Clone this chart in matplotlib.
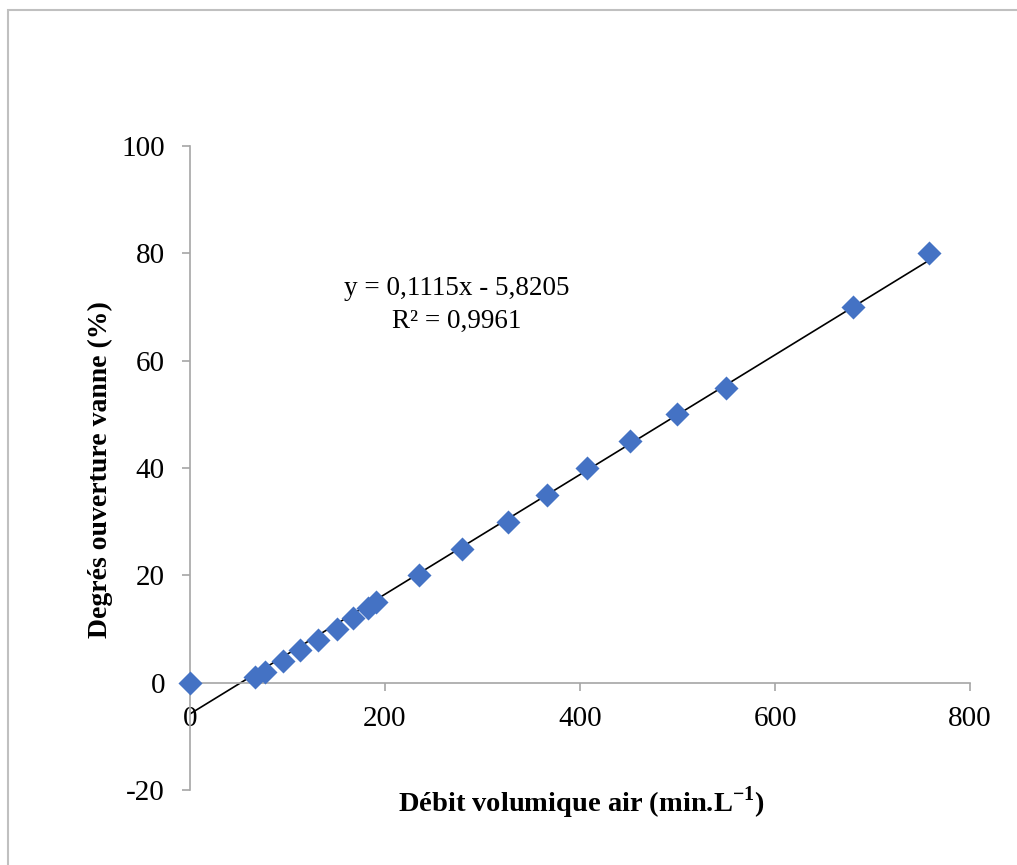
import matplotlib
matplotlib.use("Agg")
import matplotlib.pyplot as plt
from matplotlib.patches import Rectangle

# Débit volumique air vs degrés ouverture vanne
debit = [0, 67, 77, 95, 113, 131, 151, 167, 183, 191,
         235, 279, 326, 366, 407, 451, 499, 550, 680, 758]
ouverture = [0, 1, 2, 4, 6, 8, 10, 12, 14, 15,
             20, 25, 30, 35, 40, 45, 50, 55, 70, 80]

slope = 0.1115
intercept = -5.8205
equation = "y = 0,1115x - 5,8205"
r2_text = "R² = 0,9961"

plt.rcParams["font.family"] = ["Liberation Serif", "DejaVu Serif"]
plt.rcParams["axes.unicode_minus"] = False
plt.rcParams["mathtext.fontset"] = "custom"
plt.rcParams["mathtext.rm"] = "Liberation Serif"
plt.rcParams["mathtext.bf"] = "Liberation Serif:bold"

fig = plt.figure(figsize=(10.17, 8.65), dpi=100)
ax = fig.add_axes([0.1868, 0.0867, 0.767, 0.7445])

# chart border (only top/left visible in the reference)
fig.patches.append(Rectangle((8 / 1017, -0.05), 1.2, 1 - 10 / 865 + 0.05,
                             transform=fig.transFigure, fill=False,
                             edgecolor="#c0c0c0", linewidth=1.5))

# trendline
x_end = max(debit)
ax.plot([0, x_end], [intercept, slope * x_end + intercept],
        color="black", linewidth=1.2, zorder=2)

ax.scatter(debit, ouverture, marker="D", s=150, color="#4472C4",
           linewidths=0, zorder=3, clip_on=False)

ax.set_xlim(0, 800)
ax.set_ylim(-20, 100)
ax.set_xticks([0, 200, 400, 600, 800])
ax.set_yticks([-20, 0, 20, 40, 60, 80, 100])

ax.spines["top"].set_visible(False)
ax.spines["right"].set_visible(False)
ax.spines["bottom"].set_position(("data", 0))
for s in ("left", "bottom"):
    ax.spines[s].set_color("#a6a6a6")
    ax.spines[s].set_linewidth(1.2)
ax.tick_params(axis="both", direction="out", length=6, width=1.2,
               color="#a6a6a6", labelsize=21)
ax.tick_params(axis="y", pad=12)
ax.tick_params(axis="x", pad=11)

ax.text(274, 73.4, equation, fontsize=19.5, ha="center", va="center")
ax.text(274, 67.4, r2_text, fontsize=19.5, ha="center", va="center")

fig.text(0.572, 0.072, "Débit volumique air (min.L$^{\\mathbf{-1}}$)",
         fontsize=20.5, fontweight="bold", ha="center", va="center")
fig.text(0.099, 0.457, "Degrés ouverture vanne (%)", fontsize=20,
         fontweight="bold", rotation=90, ha="center", va="center")

fig.savefig("out.png", dpi=100)
